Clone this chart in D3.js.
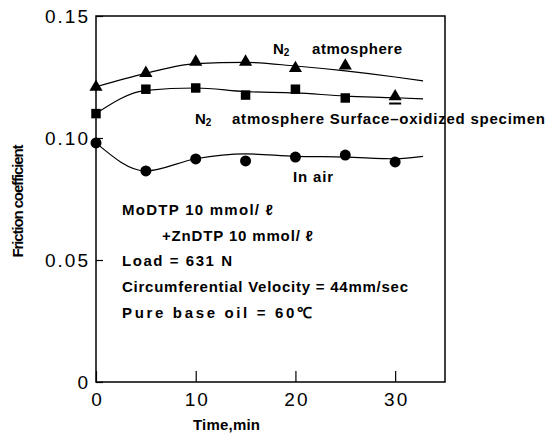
<!DOCTYPE html>
<html>
<head>
<meta charset="utf-8">
<script src="https://cdn.jsdelivr.net/npm/d3@7"></script>
<style>
  body { margin: 0; background: #fff; }
  svg { display: block; }
  .tick text { font-family: "Liberation Sans", Arial, sans-serif; }
  .note { font-family: "Liberation Sans", Arial, sans-serif; font-weight: bold; font-size: 15px; }
</style>
</head>
<body>
<div id="chart"></div>
<script>
'use strict';

// Data
const times = [0, 5, 10, 15, 20, 25, 30];
const n2Atmosphere = [0.1213, 0.127, 0.1316, 0.1316, 0.129, 0.130];   // triangles
const n2Oxidized = [0.110, 0.120, 0.1205, 0.1176, 0.120, 0.1164, 0.117]; // squares (last is triangle)
const inAir = [0.098, 0.0865, 0.0914, 0.0906, 0.0922, 0.093, 0.0902];   // circles

// hand drawn fitted curves
const curveTimes = [0, 5, 10, 15, 20, 25, 30, 32.8];
const n2AtmosphereFit = [0.121, 0.1265, 0.1305, 0.131, 0.1295, 0.1275, 0.125, 0.1234];
const n2OxidizedFit = [0.110, 0.1195, 0.1205, 0.119, 0.1185, 0.1172, 0.1165, 0.116];
const inAirFit = [0.098, 0.0865, 0.0915, 0.0935, 0.0925, 0.0922, 0.0915, 0.0925];

const xTicks = [0, 10, 20, 30];
const yTicks = [0, 0.05, 0.10, 0.15];
const yTickLabels = ['0', '0.05', '0.10', '0.15'];

const notes = [
  'MoDTP 10 mmol/ \u2113',
  '+ZnDTP 10 mmol/ \u2113',
  'Load = 631 N',
  'Circumferential Velocity = 44mm/sec',
  'Pure base oil = 60\u2103'
];

const W = 550, H = 436;
const svg = d3.select('#chart').append('svg')
    .attr('width', W)
    .attr('height', H);

const x = d3.scaleLinear().domain([0, 35]).range([96, 445]);
const y = d3.scaleLinear().domain([0, 0.15]).range([382, 16]);

// frame
svg.append('rect')
    .attr('x', x(0)).attr('y', y(0.15))
    .attr('width', x(35) - x(0)).attr('height', y(0) - y(0.15))
    .attr('fill', 'none').attr('stroke', '#000').attr('stroke-width', 1.5);

// axes
const yAxis = svg.append('g')
    .attr('transform', `translate(${x(0)},0)`)
    .call(d3.axisLeft(y).tickValues(yTicks)
        .tickFormat((d, i) => yTickLabels[i])
        .tickSizeInner(-7).tickSizeOuter(0).tickPadding(6))
    .call(g => g.select('.domain').remove());
yAxis.selectAll('.tick line').attr('stroke-width', 1.2);
yAxis.selectAll('.tick text')
    .attr('font-size', 19).attr('letter-spacing', 2).attr('fill', '#000');

const xAxis = svg.append('g')
    .attr('transform', `translate(0,${y(0)})`)
    .call(d3.axisBottom(x).tickValues(xTicks)
        .tickSizeInner(-11).tickSizeOuter(0).tickPadding(11))
    .call(g => g.select('.domain').remove());
xAxis.selectAll('.tick line').attr('stroke-width', 1.2);
xAxis.selectAll('.tick text')
    .attr('font-size', 19).attr('letter-spacing', 2).attr('dx', 1).attr('fill', '#000');

// axis titles
svg.append('text')
    .attr('class', 'note')
    .attr('transform', `translate(23,201) rotate(-90)`)
    .attr('text-anchor', 'middle')
    .attr('font-size', 14)
    .attr('textLength', 113)
    .text('Friction coefficient');

svg.append('text')
    .attr('class', 'note')
    .attr('x', 193).attr('y', 430)
    .attr('textLength', 67)
    .text('Time,min');

// curves
const line = d3.line()
    .x(d => x(d[0]))
    .y(d => y(d[1]))
    .curve(d3.curveMonotoneX);

[n2AtmosphereFit, n2OxidizedFit, inAirFit].forEach(fit => {
  svg.append('path')
      .datum(curveTimes.map((t, i) => [t, fit[i]]))
      .attr('d', line)
      .attr('fill', 'none')
      .attr('stroke', '#000')
      .attr('stroke-width', 1.2);
});

// markers
const tri = d3.symbol().type(d3.symbolTriangle).size(75);
const sq = d3.symbol().type(d3.symbolSquare).size(90);

svg.selectAll('.tri')
    .data(n2Atmosphere)
    .join('path')
    .attr('class', 'tri')
    .attr('transform', (d, i) => `translate(${x(times[i])},${y(d) + 1})`)
    .attr('d', tri);

svg.selectAll('.sq')
    .data(n2Oxidized)
    .join('path')
    .attr('class', 'sq')
    .attr('transform', (d, i) => `translate(${x(times[i])},${y(d)})`)
    .attr('d', (d, i) => i === n2Oxidized.length - 1 ? tri() : sq());

// underline under the last oxidized marker
svg.append('line')
    .attr('x1', x(times[6]) - 6).attr('x2', x(times[6]) + 6)
    .attr('y1', y(n2Oxidized[6]) + 7).attr('y2', y(n2Oxidized[6]) + 7)
    .attr('stroke', '#000').attr('stroke-width', 2);

svg.selectAll('.dot')
    .data(inAir)
    .join('circle')
    .attr('class', 'dot')
    .attr('cx', (d, i) => x(times[i]))
    .attr('cy', d => y(d))
    .attr('r', 5.5);

// series labels
function n2Label(x0, yb, restX, restW, rest) {
  const g = svg.append('g').attr('class', 'note');
  const t = g.append('text').attr('x', x0).attr('y', yb);
  t.append('tspan').text('N');
  t.append('tspan').attr('font-size', 10).attr('dy', 2).text('2');
  g.append('text').attr('x', restX).attr('y', yb)
      .attr('textLength', restW).attr('lengthAdjust', 'spacing')
      .text(rest);
}
n2Label(273, 54, 312, 90, 'atmosphere');
n2Label(195, 124, 232, 313, 'atmosphere Surface\u2013oxidized specimen');

svg.append('text').attr('class', 'note')
    .attr('x', 293).attr('y', 182)
    .attr('textLength', 40)
    .text('In air');

// test conditions
const noteWidths = [151, 151, 110, 286, 190];
svg.selectAll('.cond')
    .data(notes)
    .join('text')
    .attr('class', 'note cond')
    .attr('x', (d, i) => i === 1 ? 162 : 122)
    .attr('y', (d, i) => 215 + i * 25.7)
    .attr('textLength', (d, i) => noteWidths[i])
    .attr('lengthAdjust', 'spacing')
    .text(d => d);
</script>
</body>
</html>
